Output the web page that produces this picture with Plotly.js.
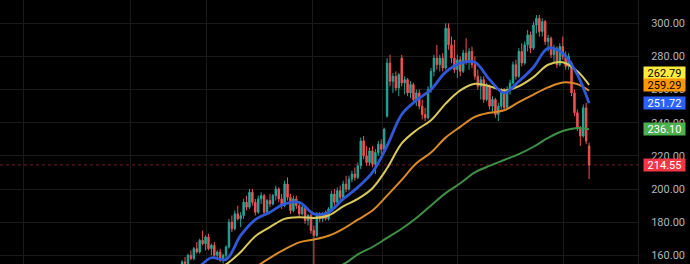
<!DOCTYPE html>
<html><head><meta charset="utf-8">
<script src="https://cdn.plot.ly/plotly-3.0.1.min.js"></script>
<style>html,body{margin:0;padding:0;background:#000;}#chart{width:690px;height:264px;}</style>
</head><body><div id="chart"></div>
<script>
// candle data (index = trading session)
const opens  = [154,156,155,160,158,164,162,169,167,171,164,166,160,162,157,160,165,180,176,185,
182,184,192,189,198,192,186,194,196,186,193,191,196,200,194,190,203,195,187,194,
190,185,189,181,184,175,172,184,182,185,182,188,197,192,199,195,203,200,206,209,
207,214,229,220,216,223,215,222,227,224,244,276,265,268,261,279,264,266,258,263,
254,258,250,245,243,260,271,279,275,279,273,297,287,279,272,278,271,282,277,283,
275,268,262,266,254,262,250,254,245,250,259,249,260,264,275,268,283,276,287,293,
285,299,303,295,301,289,291,281,285,275,286,280,274,276,258,246,237,232,249,226];
const highs  = [157,159,161,163,165,168,170,175,172,173,167,168,163,164,161,166,182,184,187,190,
186,194,196,200,200,194,196,198,197,194,197,197,202,201,197,205,207,197,196,196,
192,191,190,185,185,178,186,186,186,187,189,199,200,201,202,205,208,208,211,213,
216,231,232,226,225,226,224,229,230,237,279,281,270,271,270,281,268,267,265,264,
260,260,254,249,262,273,281,287,281,282,300,300,292,290,281,280,284,291,285,286,
280,272,268,268,264,263,256,255,252,261,261,262,266,277,278,285,288,289,296,295,
301,305,305,303,302,293,292,287,286,288,292,283,282,277,260,248,238,251,252,228];
const lows   = [152,154,154,157,157,161,161,166,163,163,160,159,157,156,155,158,164,174,175,181,
177,182,187,188,190,184,185,191,184,185,189,190,193,192,188,189,193,185,186,188,
183,184,179,178,173,150,171,180,180,181,181,187,190,191,193,194,198,199,204,205,
206,212,218,214,214,213,209,220,221,223,243,262,258,259,256,262,257,256,255,252,
250,248,242,241,242,258,268,272,271,271,272,284,276,270,267,268,270,275,272,273,
266,260,254,252,253,248,246,243,241,248,247,248,257,263,266,267,274,275,283,282,
284,294,292,292,287,283,279,276,273,274,278,272,272,256,244,235,226,231,227,206];
const closes = [156,155,160,158,164,162,169,167,171,164,166,160,162,157,160,165,180,176,185,182,
184,192,189,198,192,186,194,196,186,193,191,196,200,194,190,203,195,187,194,190,
185,189,181,184,175,172,184,182,185,182,188,197,192,199,195,203,200,206,209,207,
214,229,220,216,223,215,222,227,224,236,276,265,268,261,269,264,266,258,263,254,
258,250,245,243,260,271,279,275,279,273,297,287,279,272,278,271,282,277,283,275,
268,262,266,254,262,250,254,245,250,259,249,260,264,275,268,283,276,287,293,285,
299,303,295,301,289,291,281,285,275,286,280,274,280,258,246,237,232,249,229,214.55];

// moving averages, read at sampled sessions
const maIdx  = [0,5,10,15,20,25,30,35,40,45,50,55,60,65,70,75,80,85,90,95,100,105,110,115,120,125,130,135,139];
const maBlue = [147,152,158.5,157.5,172,181.5,186,191,192,185,186,194,201,210,226,245,253.5,260,270.5,276,276.5,266,258,265,273.5,285,282,269,251.72];
const maYellow = [140,145,150,154.5,162,171.5,177,182,183,182.5,184,189.5,194,200.5,212.5,227.5,235.5,241.5,251.5,259.5,263.5,262,259.5,262,267.5,275,276.5,271,262.79];
const maOrange = [138,141,144,147,150,153,158.5,163.5,167.8,169.5,171.8,176,181.5,187,196,205.5,215.5,222,231,237.5,243.5,246,247.5,252.5,257,261.3,264.3,263.3,259.29];
const maGreen = [130,132,134,136,138,140,142,144.5,147,149.5,152,154.5,160.5,165,170.5,176,182.5,190,197.5,203.5,210,214,217.5,221,225.5,230.8,235,236.8,236.10];

const sessions = closes.map((_, i) => i);
const last = closes.length - 1;

const traces = [
  {type:'candlestick', x:sessions, open:opens, high:highs, low:lows, close:closes,
   increasing:{line:{color:'#26a69a', width:1}, fillcolor:'#26a69a'},
   decreasing:{line:{color:'#ef5350', width:1}, fillcolor:'#ef5350'},
   whiskerwidth:0, hoverinfo:'skip', showlegend:false},
  {type:'scatter', mode:'lines', x:maIdx, y:maGreen, line:{color:'#3f8f45', width:2, shape:'spline', smoothing:1}, hoverinfo:'skip', showlegend:false},
  {type:'scatter', mode:'lines', x:maIdx, y:maOrange, line:{color:'#d98a26', width:2, shape:'spline', smoothing:1}, hoverinfo:'skip', showlegend:false},
  {type:'scatter', mode:'lines', x:maIdx, y:maYellow, line:{color:'#d8c95a', width:2, shape:'spline', smoothing:1}, hoverinfo:'skip', showlegend:false},
  {type:'scatter', mode:'lines', x:maIdx, y:maBlue, line:{color:'#2f58d6', width:2.8, shape:'spline', smoothing:1}, hoverinfo:'skip', showlegend:false}
];

function lab(v, bg, fg, shift){
  return {xref:'paper', x:1, xanchor:'left', xshift:5, yref:'y', y:v, yshift:shift, yanchor:'middle',
    text:v.toFixed(2), showarrow:false, bgcolor:bg, font:{family:'Roboto, Arial, sans-serif', size:11, color:fg},
    width:40, height:11, borderpad:0.5};
}

const layout = {
  width:690, height:264,
  paper_bgcolor:'#000', plot_bgcolor:'#000',
  margin:{l:0, r:52, t:0, b:0},
  showlegend:false,
  xaxis:{type:'linear', range:[-62.2,155.7], rangeslider:{visible:false},
    tickmode:'array', tickvals:[-54.3,-17.7,8.2,44.4,68.6,93.9,130.4],
    showticklabels:false, ticks:'', showgrid:true, gridcolor:'#1a1a1a', gridwidth:1, zeroline:false, fixedrange:true},
  yaxis:{side:'right', range:[154.74,314.06], tick0:0, dtick:20, tickformat:'.2f',
    showgrid:true, gridcolor:'#1a1a1a', gridwidth:1, zeroline:false, ticks:'',
    showline:true, linecolor:'#1c1c1c', linewidth:1, mirror:false,
    ticklabelstandoff:10,
    tickfont:{family:'Roboto, Arial, sans-serif', size:11, color:'#b2b5be'}, fixedrange:true},
  shapes:[{type:'line', xref:'paper', x0:0, x1:1, yref:'y', y0:closes[last], y1:closes[last],
    line:{color:'rgba(242,54,69,0.5)', width:1, dash:'dot'}, layer:'below'}],
  annotations:[
    lab(maYellow[maYellow.length-1], '#ffeb3b', '#000', 12),
    lab(maOrange[maOrange.length-1], '#ff9800', '#000', 6),
    lab(maBlue[maBlue.length-1], '#2962ff', '#fff', 0),
    lab(maGreen[maGreen.length-1], '#4caf50', '#fff', 0),
    lab(closes[last], '#f23645', '#fff', 0)
  ]
};
Plotly.newPlot('chart', traces, layout, {staticPlot:true, displayModeBar:false});
</script></body></html>
